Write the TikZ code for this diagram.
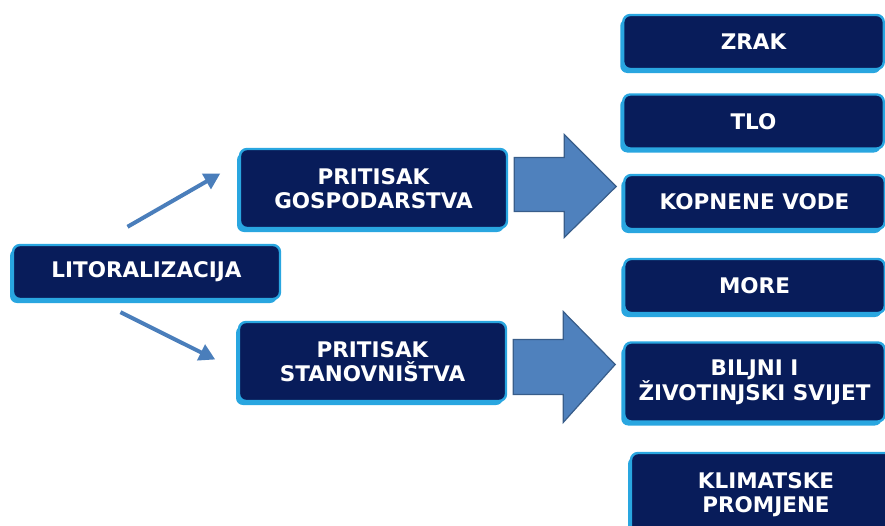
\documentclass[tikz,border=0pt]{standalone}
\usepackage{fontspec}
\setmainfont{DejaVu Sans}
\usepackage{tikz}
\usetikzlibrary{arrows.meta, shadows, calc}

\definecolor{boxnavy}{HTML}{081C5A}
\definecolor{boxedge}{HTML}{29A6E0}
\definecolor{arrowfill}{HTML}{4F81BD}
\definecolor{arrowedge}{HTML}{385D8A}
\definecolor{pointerblue}{HTML}{4A7EBB}

\begin{document}
\begin{tikzpicture}[x=1pt, y=-1pt,
				   every node/.style={rectangle, rounded corners=7pt, fill=boxnavy, draw=boxedge, line width=2.4pt, text=white, align=center, inner sep=0pt,
				   		font=\bfseries\fontsize{21.5}{24}\selectfont,
				   		drop shadow={shadow xshift=-3pt, shadow yshift=-4pt, opacity=1, fill=boxedge}},
				   leftcol/.style={minimum width=267pt},
				   rightcol/.style={minimum width=260.5pt},
				   small/.style={minimum height=54pt},
				   tall/.style={minimum height=79pt},
				   pointer/.style={draw=pointerblue, line width=4pt, -{Triangle[length=16pt, width=17pt]}},
				   bigarrow/.style={fill=arrowfill, draw=arrowedge, line width=1.2pt, line join=miter}]
\useasboundingbox (0,0) rectangle (885,525);
\node[leftcol, small] (lit) at (146.5,272) {LITORALIZACIJA};
\node[leftcol, tall] (pg) at (373.5,188.5) {PRITISAK\\GOSPODARSTVA};
\node[leftcol, tall] (ps) at (372.5,361.5) {PRITISAK\\STANOVNIŠTVA};
\node[rightcol, small] (zrak) at (753.5,42) {ZRAK};
\node[rightcol, small] (tlo) at (753.5,121.5) {TLO};
\node[rightcol, small] (vode) at (754.5,202) {KOPNENE VODE};
\node[rightcol, small] (more) at (754.5,286) {MORE};
\node[rightcol, tall] (svijet) at (754.5,382) {BILJNI I\\ŽIVOTINJSKI SVIJET};
\node[minimum width=270pt, minimum height=84pt] (klima) at (766,495) {KLIMATSKE\\PROMJENE};

\draw[pointer] ($(lit.north)+(-19,-17)$) -- ($(pg.west)+(-18.5,-15)$);
\draw[pointer] ($(lit.south)+(-26,12)$) -- ($(ps.west)+(-22.5,-2)$);

\filldraw[bigarrow] ($(pg.east)+(6,23)$) -- ++(50,0) -- ++(0,26) -- ++(52,-51) -- ++(-52,-52) -- ++(0,23) -- ++(-50,0) -- cycle;
\filldraw[bigarrow] ($(ps.east)+(6,33)$) -- ++(50,0) -- ++(0,28) -- ++(52,-58) -- ++(-52,-53) -- ++(0,28) -- ++(-50,0) -- cycle;
\end{tikzpicture}
\end{document}
